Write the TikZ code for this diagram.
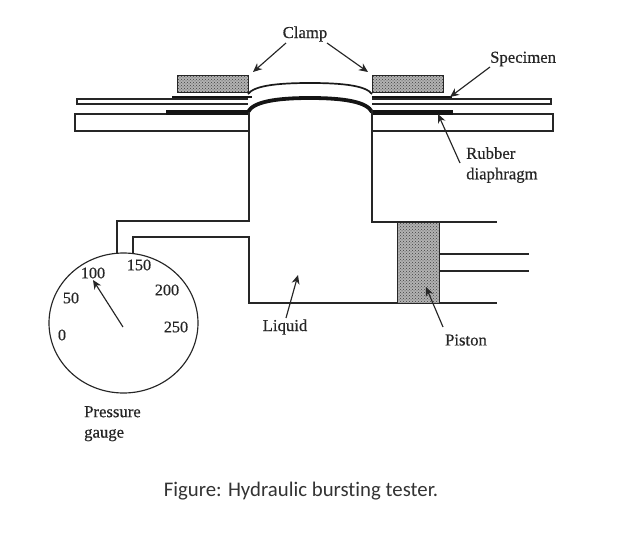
\documentclass[tikz,border=0pt]{standalone}
\usepackage{fontspec}
\setmainfont{Liberation Serif}
\newfontfamily\capfont[Ligatures=NoCommon]{Carlito}
\newfontfamily\labfont[FakeBold=0.5]{Liberation Serif}
\usetikzlibrary{arrows.meta,shapes.geometric,patterns}
\tikzset{
  line/.style={draw=black!85,line width=1.15pt},
  lab/.style={inner sep=0pt,font=\labfont\fontsize{16.7}{19}\selectfont,text=black!85},
  dial/.style={inner sep=0pt,font=\labfont\fontsize{16.2}{19}\selectfont,text=black!85},
  pointer/.style={draw=black!85,line width=1.15pt,-{Stealth[length=9pt,width=8pt]}},
  dense/.style={draw=black!85,line width=1.15pt,preaction={fill=black!30},pattern=crosshatch dots,pattern color=black!75},
  rubber/.style={fill=black!92,draw=none}
}
\begin{document}
\begin{tikzpicture}[x=1pt,y=-1pt]
\useasboundingbox (0,0) rectangle (625,552);
% plates
\draw[line] (248,99) -- (77,99) -- (77,104) -- (248,104);
\draw[line] (372,99) -- (551,99) -- (551,104) -- (372,104);
\draw[line] (248,114) -- (75,114) -- (75,131) -- (248,131);
\draw[line] (372,114) -- (553,114) -- (553,131) -- (372,131);
% clamps
\node[dense,minimum width=71pt,minimum height=17pt,inner sep=0pt,anchor=north west] (clampL) at (177,75) {};
\node[dense,minimum width=71pt,minimum height=17pt,inner sep=0pt,anchor=north west] (clampR) at (372,75) {};
% specimen under clamps and dome
\fill[rubber] (172,96) -- (252,96) -- (252,98.4) -- (172,98.4) -- cycle;
\fill[rubber] (372,96) -- (452,96) -- (452,98.4) -- (372,98.4) -- cycle;
\draw[black!90,line width=1.7pt] (248,94) .. controls (254,86) and (275,83) .. (310,83) .. controls (345,83) and (366,86) .. (372,94);
% rubber diaphragm
\fill[rubber] (166,109.5) -- (248,109.5) -- (248,114.5) -- (166,114.5) -- cycle;
\fill[rubber] (372,109.5) -- (453,109.5) -- (453,114.5) -- (372,114.5) -- cycle;
\draw[black!92,line width=3.8pt] (248,112) .. controls (253,102) and (275,98) .. (310,98) .. controls (345,98) and (367,102) .. (372,112);
% body
\draw[line] (249,112) -- (249,221) -- (117,221) -- (117,253);
\draw[line] (133,254) -- (133,237) -- (249,237) -- (249,303) -- (497,303);
\draw[line] (372,110) -- (372,222) -- (497,222);
% piston
\node[dense,minimum width=42pt,minimum height=81pt,inner sep=0pt,anchor=north west] (piston) at (397,222) {};
\coordinate (rodA) at (529,254);
\coordinate (rodB) at (529,271);
\draw[line] (piston.east |- rodA) -- (rodA);
\draw[line] (piston.east |- rodB) -- (rodB);
% gauge
\node[draw=black!85,line width=1.15pt,ellipse,minimum width=149pt,minimum height=140pt,inner sep=0pt] (gauge) at (123.5,323) {};
\coordinate (hub) at (123,327);
\coordinate (tip) at (93,280);
\node[dial] (d0) at (62,335) {0};
\node[dial] (d50) at (71,298) {50};
\node[dial] (d100) at (93,273) {100};
\node[dial] (d150) at (139,265) {150};
\node[dial] (d200) at (167,290) {200};
\node[dial] (d250) at (176,327) {250};
\draw[pointer] (hub) -- (tip);
% labels
\node[lab] (clamp) at (305,34) {Clamp};
\node[lab,anchor=west] (spec) at (490,59) {Specimen};
\node[lab,align=left,anchor=north west] (rub) at (466,147) {Rubber\\[1.5pt]diaphragm};
\node[lab] (liq) at (285,327) {Liquid};
\node[lab] (pist) at (466,340) {Piston};
\node[lab,align=left,anchor=north west] (pg) at (84,406) {Pressure\\[1.5pt]gauge};
\node[inner sep=0pt,font=\capfont\fontsize{20.8}{24}\selectfont,text=black!80] (cap) at (301,491) {Figure: Hydraulic bursting tester.};
% pointers
\coordinate (c1s) at (286,43); \coordinate (c1e) at (253,72);
\coordinate (c2s) at (327,43); \coordinate (c2e) at (368,72);
\coordinate (sps) at (490,67); \coordinate (spe) at (450,97);
\coordinate (rbs) at (460,163); \coordinate (rbe) at (438,114);
\coordinate (lqs) at (286,318); \coordinate (lqe) at (298,275);
\coordinate (pss) at (443,327); \coordinate (pse) at (426,287);
\draw[pointer] (c1s) -- (c1e);
\draw[pointer] (c2s) -- (c2e);
\draw[pointer] (sps) -- (spe);
\draw[pointer] (rbs) -- (rbe);
\draw[pointer] (lqs) -- (lqe);
\draw[pointer] (pss) -- (pse);
\end{tikzpicture}
\end{document}
